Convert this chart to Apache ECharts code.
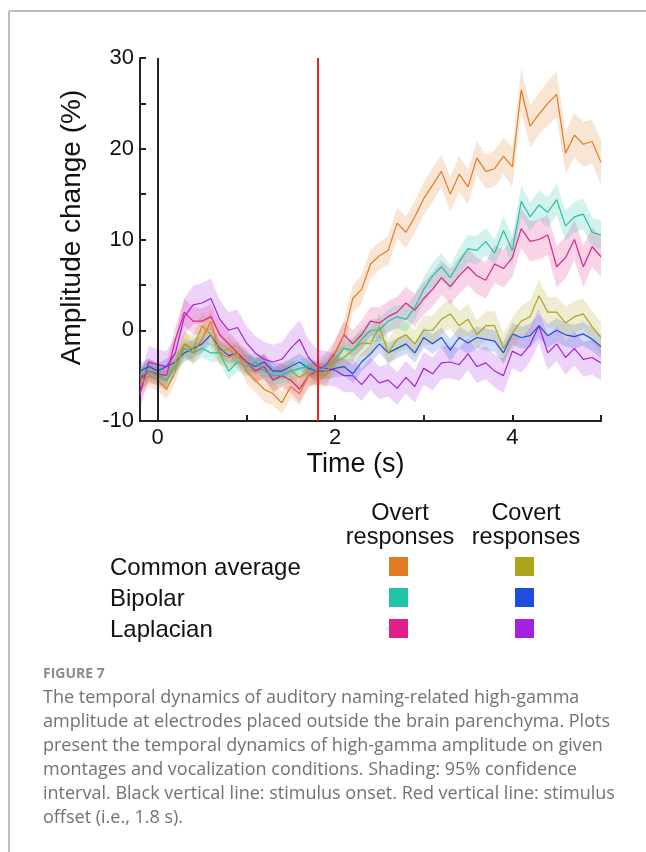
<!DOCTYPE html>
<html>
<head>
<meta charset="utf-8">
<script src="https://cdn.jsdelivr.net/npm/echarts@6/dist/echarts.min.js"></script>
<style>
  html, body { margin: 0; padding: 0; background: #fff; }
  #main { width: 646px; height: 852px; }
</style>
</head>
<body>
<div id="main"></div>
<script>
// time samples (s)
var times = [-0.2,-0.1,0.0,0.1,0.2,0.3,0.4,0.5,0.6,0.7,0.8,0.9,1.0,1.1,1.2,1.3,1.4,1.5,1.6,1.7,1.8,1.9,
  2.0,2.1,2.2,2.3,2.4,2.5,2.6,2.7,2.8,2.9,3.0,3.1,3.2,3.3,3.4,3.5,3.6,3.7,3.8,3.9,
  4.0,4.1,4.2,4.3,4.4,4.5,4.6,4.7,4.8,4.9,5.0];

// mean amplitude change (%)
var caOvert = [-6.0,-5.0,-5.5,-6.5,-4.5,-1.5,-2.5,-1.0,1.0,-2.5,-3.0,-2.5,-4.5,-5.5,-6.5,-7.0,-8.0,-6.2,-7.0,-5.0,-4.8,-5.0,
  -2.5,-0.5,3.5,4.5,7.3,8.2,8.8,11.8,10.8,12.5,14.5,16.0,17.5,15.0,17.2,15.8,19.0,17.5,17.8,19.2,
  18.0,26.5,22.5,23.8,25.0,26.0,19.5,21.5,20.5,20.8,18.5];
var bpOvert = [-5.0,-4.5,-5.0,-5.5,-4.0,-2.0,-2.5,-2.0,-2.5,-2.5,-4.5,-3.5,-4.0,-3.5,-4.5,-5.0,-5.0,-4.5,-4.2,-4.0,-4.5,-4.0,
  -3.2,-2.0,-2.2,-1.0,0.0,0.0,1.0,1.5,1.2,2.5,4.5,6.0,7.0,5.8,7.5,9.0,8.8,9.8,8.5,11.0,
  8.8,14.2,12.5,13.8,13.0,14.4,11.5,12.5,12.8,10.8,10.5];
var lpOvert = [-5.5,-4.5,-4.8,-5.0,-1.0,2.0,1.0,1.0,1.5,-0.5,-1.5,-2.5,-3.5,-4.5,-4.0,-5.5,-5.0,-5.5,-6.5,-5.0,-4.5,-3.8,
  -2.5,-0.5,-1.5,-0.5,1.0,0.8,1.5,2.0,3.0,2.2,3.5,4.5,5.8,4.8,6.0,7.0,6.0,5.5,7.3,6.8,
  8.0,11.2,9.8,10.0,10.5,7.0,8.0,10.0,7.0,9.2,8.1];
var caCovert = [-5.5,-4.5,-5.0,-5.5,-3.5,-1.5,-2.0,0.5,-0.5,-2.5,-2.0,-3.0,-3.5,-4.5,-4.0,-5.5,-5.0,-4.5,-5.2,-4.5,-5.0,-4.5,
  -3.5,-3.0,-2.2,-1.4,-1.5,0.4,-2.5,-1.0,-0.5,-1.5,0.0,0.0,1.2,1.8,0.5,1.2,-0.5,0.5,0.5,-2.0,
  -0.3,1.0,1.5,3.8,2.0,2.0,0.8,1.5,1.8,0.4,-0.8];
var bpCovert = [-4.5,-4.0,-4.5,-4.0,-3.5,-2.5,-2.0,-1.5,-0.5,-2.0,-2.8,-2.5,-3.5,-4.0,-3.5,-4.5,-4.5,-4.0,-3.5,-4.2,-4.5,-4.5,
  -4.2,-4.0,-4.8,-3.5,-2.6,-1.5,-2.5,-2.0,-1.5,-2.5,-0.8,-1.5,-0.8,-2.2,-0.8,-1.4,-0.8,-1.0,-1.2,-2.5,
  -0.4,-0.8,-0.6,0.5,-0.6,0.0,-0.5,-0.7,-0.4,-1.0,-1.8];
var lpCovert = [-7.0,-3.5,-3.8,-4.0,-2.5,1.5,2.8,3.0,3.5,1.2,0.0,0.3,-1.4,-2.5,-3.2,-3.5,-3.2,-2.0,-1.0,-3.0,-4.0,-4.2,
  -4.4,-5.0,-5.0,-6.0,-4.8,-5.8,-5.5,-6.4,-5.2,-6.2,-4.2,-4.8,-3.6,-3.5,-3.8,-2.6,-4.0,-3.6,-4.5,-5.0,
  -2.3,-2.8,-1.6,0.5,-2.5,-1.5,-3.0,-2.0,-3.2,-3.0,-3.6];

// half width of the 95% confidence interval
var caOvertCI = [1.3,1.2,1.2,1.1,1.2,1.3,1.3,1.4,1.4,1.3,1.2,1.2,1.3,1.3,1.4,1.3,1.2,1.3,1.2,1.2,1.2,1.3,
  1.4,1.5,1.5,1.6,1.6,1.5,1.6,1.7,1.7,1.8,1.8,1.9,1.8,1.9,2.0,1.9,1.8,1.9,2.0,2.0,
  2.2,2.4,2.3,2.3,2.4,2.5,2.3,2.4,2.5,2.4,2.5];
var bpOvertCI = [1.0,1.0,0.9,0.9,1.0,1.1,1.1,1.0,1.0,1.0,1.0,1.0,1.1,1.0,1.0,1.0,0.9,1.0,1.0,1.0,1.0,1.0,
  1.1,1.1,1.2,1.2,1.2,1.3,1.3,1.3,1.4,1.4,1.4,1.5,1.5,1.4,1.5,1.5,1.6,1.5,1.5,1.6,
  1.6,1.7,1.6,1.6,1.7,1.7,1.6,1.7,1.7,1.6,1.6];
var lpOvertCI = [1.3,1.3,1.2,1.2,1.4,1.5,1.5,1.4,1.4,1.4,1.3,1.3,1.3,1.3,1.4,1.4,1.3,1.4,1.4,1.3,1.3,1.3,
  1.4,1.5,1.5,1.6,1.6,1.7,1.7,1.7,1.8,1.8,1.8,1.9,1.9,1.9,2.0,2.0,2.0,2.0,2.1,2.1,
  2.1,2.2,2.2,2.2,2.2,2.3,2.3,2.2,2.3,2.2,2.2];
var caCovertCI = [1.2,1.2,1.2,1.2,1.3,1.4,1.4,1.5,1.4,1.3,1.3,1.3,1.3,1.2,1.2,1.2,1.2,1.2,1.2,1.2,1.2,1.2,
  1.3,1.3,1.4,1.4,1.4,1.5,1.5,1.5,1.5,1.5,1.6,1.6,1.6,1.6,1.6,1.7,1.6,1.6,1.6,1.7,
  1.7,1.7,1.8,1.8,1.7,1.7,1.8,1.7,1.7,1.7,1.7];
var bpCovertCI = [0.9,0.9,0.9,0.9,0.9,1.0,1.0,1.0,1.0,0.9,0.9,0.9,0.9,0.9,0.9,0.9,0.9,0.9,0.9,0.9,0.9,0.9,
  1.0,1.0,1.0,1.0,1.0,1.0,1.1,1.1,1.1,1.1,1.1,1.1,1.1,1.2,1.2,1.2,1.2,1.2,1.2,1.2,
  1.2,1.2,1.3,1.3,1.3,1.3,1.3,1.3,1.3,1.3,1.3];
var lpCovertCI = [1.8,1.8,1.7,1.7,1.8,2.0,2.1,2.2,2.2,2.1,2.0,2.0,1.9,1.9,1.9,1.9,1.9,2.0,2.1,2.0,1.9,1.9,
  1.8,1.8,1.8,1.8,1.8,1.8,1.8,1.8,1.8,1.8,1.8,1.8,1.8,1.8,1.8,1.8,1.8,1.8,1.8,1.9,
  1.9,1.9,1.9,1.9,1.9,1.9,1.9,1.9,1.9,1.9,1.9];

var montages = ['Common average', 'Bipolar', 'Laplacian'];
var conditions = ['Overt\nresponses', 'Covert\nresponses'];
var xTicks = [0, 1, 2, 3, 4, 5];
var xLabels = [0, 2, 4];
var onsetTime = 0;
var offsetTime = 1.8;

var captionTitle = 'FIGURE 7';
var captionLines = [
  'The temporal dynamics of auditory naming-related high-gamma',
  'amplitude at electrodes placed outside the brain parenchyma. Plots',
  'present the temporal dynamics of high-gamma amplitude on given',
  'montages and vocalization conditions. Shading: 95% confidence',
  'interval. Black vertical line: stimulus onset. Red vertical line: stimulus',
  'offset (i.e., 1.8 s).'
];

// draw order: covert first, overt on top
var curves = [
  { name: 'Laplacian covert', mean: lpCovert, ci: lpCovertCI, color: '#a421df' },
  { name: 'Bipolar covert', mean: bpCovert, ci: bpCovertCI, color: '#1f4de0' },
  { name: 'Common average covert', mean: caCovert, ci: caCovertCI, color: '#aca51b' },
  { name: 'Laplacian overt', mean: lpOvert, ci: lpOvertCI, color: '#e0218c' },
  { name: 'Bipolar overt', mean: bpOvert, ci: bpOvertCI, color: '#1ec4a5' },
  { name: 'Common average overt', mean: caOvert, ci: caOvertCI, color: '#e27c22' }
];
var swatchColors = [['#e27c22', '#aca51b'], ['#1ec4a5', '#1f4de0'], ['#e0218c', '#a421df']];

var chart = echarts.init(document.getElementById('main'));
var font = 'Liberation Sans, Arial, sans-serif';

var series = [];
curves.forEach(function (c) {
  var band = times.map(function (t, i) { return [t, c.mean[i] - c.ci[i], c.mean[i] + c.ci[i]]; });
  series.push({
    type: 'custom',
    name: c.name + ' CI',
    silent: true,
    clip: true,
    z: 1,
    data: band,
    encode: { x: 0, y: [1, 2] },
    renderItem: function (params, api) {
      if (params.dataIndex !== 0) return null;
      var upper = [], lower = [];
      for (var i = 0; i < band.length; i++) {
        upper.push(api.coord([band[i][0], band[i][2]]));
        lower.push(api.coord([band[i][0], band[i][1]]));
      }
      return {
        type: 'polygon',
        shape: { points: upper.concat(lower.reverse()) },
        style: { fill: c.color, opacity: 0.2 }
      };
    }
  });
});
curves.forEach(function (c) {
  series.push({
    type: 'line',
    name: c.name,
    symbol: 'none',
    z: 3,
    lineStyle: { color: c.color, width: 1.2 },
    data: times.map(function (t, i) { return [t, c.mean[i]]; })
  });
});
series[series.length - 1].markLine = {
  silent: true,
  symbol: 'none',
  label: { show: false },
  data: [
    { xAxis: onsetTime, lineStyle: { color: '#222', width: 2, type: 'solid' } },
    { xAxis: offsetTime, lineStyle: { color: '#e8262a', width: 2, type: 'solid' } }
  ]
};

var graphics = [
  { type: 'line', shape: { x1: 9, y1: 11, x2: 646, y2: 11 }, style: { stroke: '#bdbdbd', lineWidth: 2 } },
  { type: 'line', shape: { x1: 9, y1: 11, x2: 9, y2: 852 }, style: { stroke: '#bdbdbd', lineWidth: 2 } }
];
var colX = [398, 524];
conditions.forEach(function (txt, j) {
  graphics.push({ type: 'text', style: { text: txt, x: colX[j] + 2, y: 526, font: '23.5px ' + font,
    fill: '#111', textAlign: 'center', textVerticalAlign: 'middle', lineHeight: 24 } });
});
var rowY = [566, 597, 628];
montages.forEach(function (m, r) {
  graphics.push({ type: 'text', style: { text: m, x: 110, y: rowY[r] + 2, font: '24px ' + font,
    fill: '#111', textVerticalAlign: 'middle' } });
  swatchColors[r].forEach(function (col, j) {
    graphics.push({ type: 'rect', shape: { x: colX[j] - 9, y: rowY[r] - 9, width: 19, height: 19 },
      style: { fill: col } });
  });
});
graphics.push({ type: 'text', style: { text: captionTitle, x: 43, y: 674, font: 'bold 14px Open Sans, sans-serif',
  fill: '#8a8a8a', textVerticalAlign: 'middle' } });
captionLines.forEach(function (line, k) {
  graphics.push({ type: 'text', style: { text: line, x: 43, y: 698 + k * 24, font: '18px Open Sans, sans-serif',
    fill: '#727272', textVerticalAlign: 'middle' } });
});

var option = {
  animation: false,
  backgroundColor: '#fff',
  grid: { left: 140, right: 45, top: 58, bottom: 431 },
  xAxis: {
    type: 'value',
    min: -0.2,
    max: 5,
    name: 'Time (s)',
    nameLocation: 'middle',
    nameGap: 30,
    nameTextStyle: { fontFamily: font, fontSize: 27, color: '#111', padding: [0, 30, 0, 0] },
    axisLine: { onZero: false, lineStyle: { color: '#222', width: 2 } },
    axisTick: { inside: true, length: 6, customValues: xTicks, lineStyle: { color: '#222', width: 2 } },
    axisLabel: { customValues: xLabels, fontFamily: font, fontSize: 22, color: '#111', margin: 6 },
    splitLine: { show: false }
  },
  yAxis: {
    type: 'value',
    min: -10,
    max: 30,
    interval: 5,
    name: 'Amplitude change (%)',
    nameLocation: 'middle',
    nameGap: 54,
    nameTextStyle: { fontFamily: font, fontSize: 28, color: '#111', padding: [0, 0, 0, 24] },
    axisLine: { show: true, onZero: false, lineStyle: { color: '#222', width: 2 } },
    axisTick: { inside: true, length: 6, lineStyle: { color: '#222', width: 2 } },
    axisLabel: {
      fontFamily: font, fontSize: 22, color: '#111', margin: 6,
      formatter: function (v) { return v % 10 === 0 ? String(v) : ''; }
    },
    splitLine: { show: false }
  },
  graphic: graphics,
  series: series
};
chart.setOption(option);
</script>
</body>
</html>
